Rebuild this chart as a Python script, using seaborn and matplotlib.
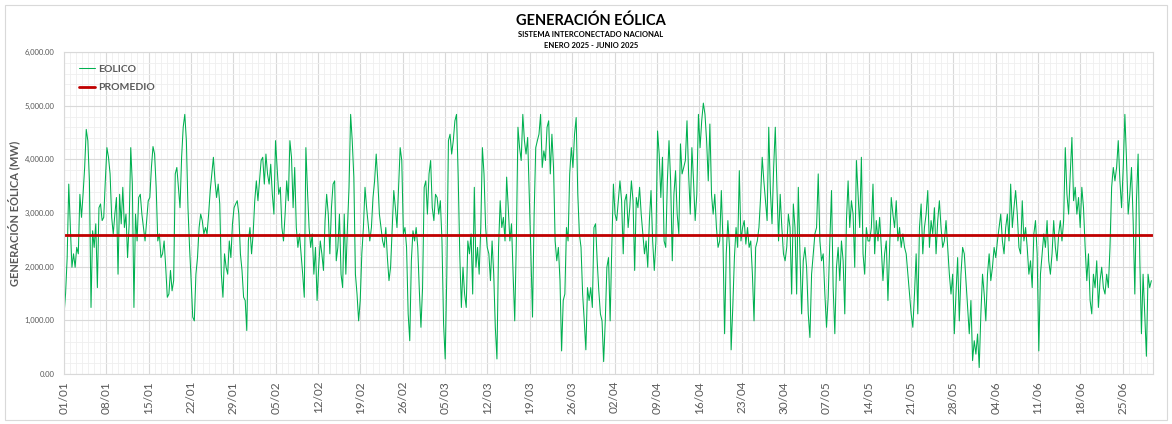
import pandas as pd
import matplotlib
matplotlib.use('Agg')
import matplotlib.pyplot as plt
from matplotlib.ticker import MultipleLocator, FuncFormatter, FixedLocator
import matplotlib.dates as mdates
import seaborn as sns

# valores (MW), agrupados por mes
ENERO = [1100, 1500, 2170, 3540, 2730, 1990, 2240, 1990, 2360, 2240, 3350, 2920, 3350, 3850, 4560,
         4350, 3600, 1240, 2670, 2360, 2800, 1610, 3100, 3170, 2860, 2920, 3600, 4220, 4040,
         3730, 2920, 2610, 2980, 3290, 1860, 3350, 2800, 3480, 2730, 2980, 2170, 2800, 4220, 3540,
         1240, 2980, 2480, 3290, 3350, 2980, 2730, 2480, 2860, 3230,
         3290, 3850, 4240, 4100, 3480, 2480, 2610, 2170, 2240, 2480, 1990, 1430, 1490, 1930, 1550,
         1740, 3730, 3850, 3480, 3100, 4040, 4600, 4840, 4350, 3100, 2360, 1740,
         1060, 990, 1860, 2170, 2730, 2980, 2860, 2610, 2730, 2610, 2980, 3420, 3730, 4040, 3600,
         3290, 3540, 3170, 1860, 1430, 2240, 1990, 1860, 2480, 2170, 2800, 3100,
         3170, 3230, 2980, 2240, 1930, 1430, 1370, 810, 2480, 2730]

FEBRERO = [2240, 2610, 3230, 3600, 3230, 3600, 3980, 4040, 3540, 4100, 3730, 3540, 3910, 3350, 2980,
           4350, 3850, 3350, 3480, 2730, 2480, 2980, 3600, 3230, 4350, 4040, 3100, 3850, 2730, 2360,
           2610, 2240, 1860, 1430, 4220, 3420, 2730, 2360, 2610, 1860, 2360,
           1370, 1990, 2480, 2240, 1930, 2860,
           3350, 2980, 2240, 3100, 3540, 3600, 2110, 2360, 2980, 1860, 1610, 2980, 1860, 2730, 3480,
           4840, 4350, 3670, 1860, 1490, 990, 1370, 2240, 2730, 3480, 3100, 2800, 2480, 2730, 3290,
           3600, 4100, 3600, 2980, 2730, 2480, 2360, 2730, 2170, 1740, 1990, 2730, 3420, 3100, 2730,
           3480, 4220, 3980, 2610, 2730, 2360, 1120, 620, 2110, 2670, 2480, 2730, 2360, 1550]

MARZO = [870, 1610, 3480, 3600, 2980, 3730, 3980, 3100, 2860, 3350, 3290, 2980, 3230, 2480, 930,
         280, 1860, 4350, 4470, 4100, 4350, 4720, 4840, 3730, 2240, 1240, 1990, 1490, 1240, 2480,
         2240, 2610, 1490, 3480, 1990, 2360, 1860, 2730, 4220, 3730, 2730, 2360, 2240, 1740, 2480,
         1860, 870, 280, 2360, 3230, 2730, 2920, 2480, 3670, 3100, 2480, 2800, 1860, 990, 2480,
         4600, 4220, 3980, 4840, 4350, 4100, 4410, 3350, 2240, 1060, 2980, 4220, 4350, 4470, 4840,
         3850, 4160, 3980, 4600, 4720, 3730, 4470, 3850, 2480, 2110, 2360, 1740, 430, 1370, 1490,
         2730, 2480, 3730, 4220, 3850, 4470, 4780, 3350, 2610, 2360, 1490, 990, 450, 1610, 1370,
         1610, 1240, 2730, 2800, 2110, 1550, 1120, 990, 230, 990, 1990]

ABRIL = [2170, 990, 2360, 3540, 2980, 2860, 3230, 3600, 3230, 2240, 3230, 3350, 2730, 3100, 3600,
         3230, 1930, 3290, 3100, 3480, 2980, 2610, 2240, 2480, 1990, 2860, 3420, 2480, 1930, 2480,
         4530, 4100, 3290, 4040, 2480, 2360, 3600, 4350, 3600, 2110, 3350, 3790, 2980, 2610, 4290,
         3730, 3850, 3980, 4720, 3730, 2980, 4220, 3600, 2860, 3350, 4840, 4220, 4720, 5050, 4840,
         4350, 3600, 4660, 3350, 2980, 3350, 2730, 2360, 2480, 3420, 2480, 750, 2240, 2860, 2360,
         450, 1240, 2170, 2730, 2360, 3790, 2480, 2730, 2860, 2420, 2730, 2360, 2480, 1860, 990,
         2360, 2480, 2730, 3290, 4040, 3600, 3230, 2860, 4600, 3420, 2800, 3850, 4600, 3480, 2480,
         3350, 2730, 2240, 2110, 2360, 2980]

MAYO = [2730, 1490, 3170, 2730, 1490, 3480, 2240, 1120, 2110, 2360, 1990, 1120, 680, 1860, 2240,
        2610, 2730, 3730, 2480, 2110, 2240, 1490, 870, 1430, 2480, 3420, 1610, 750, 1990, 2360,
        1740, 2480, 2110, 1120, 2860, 3600, 2730, 3230, 2980, 1990, 3980, 3350, 2730, 4040, 2240,
        1860, 2730, 2480,
        2480, 2730, 3540, 2240, 2860, 2480, 2920, 2360, 1740, 2240, 2480, 1370, 2360, 3290, 2980,
        2730, 3230, 2480, 2730, 2360, 2610, 2360, 2240, 1860, 1490, 1120, 870, 1490, 2240, 1120,
        2730, 3170, 2240, 2730, 2980, 3420, 2360, 2860, 2610, 3100, 2240, 2860, 3230, 2730, 2360,
        2480, 2860, 2360, 1860, 1490, 1860, 750, 1490, 2170, 990, 1860, 2360, 2240, 1740, 1240,
        750, 1370, 250, 620, 370]

JUNIO = [745, 120, 1120, 1860, 1490, 990, 1860, 2240, 1740, 1990, 2360, 2170, 2480, 2730, 2980,
         2480, 2240, 2730, 2980, 2480, 3540, 2730, 3100, 3420, 2980, 2360, 2240, 3230, 2480, 2730,
         2360, 1860, 2110, 1610, 2610, 2860, 2240, 430, 1860, 2240, 2610, 2360, 2860, 2110, 1860,
         2240, 2860, 2360, 2110, 2610, 2860, 2480, 2860, 4220, 3350, 2980, 3730, 4410, 3230, 3480,
         2980, 3290, 2730, 3480, 3100, 2360, 1740, 2240, 1370, 1120, 1860, 1610, 2110, 1240, 1740,
         1990, 1610, 1490, 1860, 1610, 2360, 3480, 3850, 3600, 3850, 4350, 3600, 3100, 3850, 4840,
         3980, 2980, 3350, 3850, 2860, 1490, 3230, 4100, 2170, 750, 1860, 1120, 330, 1860, 1610, 1740]

PROMEDIO = 2590

MESES = [('2025-01-01', '2025-02-01', ENERO),
         ('2025-02-01', '2025-03-01', FEBRERO),
         ('2025-03-01', '2025-04-01', MARZO),
         ('2025-04-01', '2025-05-01', ABRIL),
         ('2025-05-01', '2025-06-01', MAYO),
         ('2025-06-01', '2025-06-30', JUNIO)]

partes = []
for ini, fin, vals in MESES:
    t = pd.date_range(ini, fin, periods=len(vals) + 1)[:-1]
    partes.append(pd.DataFrame({'fecha': t, 'mw': vals}))
df = pd.concat(partes, ignore_index=True)

TICKS = pd.date_range('2025-01-01', '2025-06-30', freq='7D')

sns.set_style('white')
plt.rcParams['font.family'] = ['Lato', 'DejaVu Sans']
GRIS = '#595959'

fig = plt.figure(figsize=(11.72, 4.24), dpi=100)
ax = fig.add_axes([0.0546, 0.118, 0.9292, 0.759])

sns.lineplot(data=df, x='fecha', y='mw', ax=ax, color='#00B050', linewidth=0.75, label='EOLICO')
ax.axhline(PROMEDIO, color='#C00000', linewidth=2, label='PROMEDIO')

ax.set_xlim(pd.Timestamp('2025-01-01'), pd.Timestamp('2025-06-30'))
ax.set_ylim(0, 6000)

ax.yaxis.set_major_locator(MultipleLocator(1000))
ax.yaxis.set_minor_locator(MultipleLocator(200))
ax.yaxis.set_major_formatter(FuncFormatter(lambda v, p: f'{v:,.2f}'))
ax.xaxis.set_major_locator(FixedLocator(mdates.date2num(TICKS)))
ax.xaxis.set_minor_locator(mdates.DayLocator())
ax.xaxis.set_major_formatter(mdates.DateFormatter('%d/%m'))

ax.grid(which='major', color='#d9d9d9', linewidth=0.8)
ax.grid(which='minor', color='#efefef', linewidth=0.6)
ax.set_axisbelow(True)

ax.tick_params(axis='x', which='both', length=0, labelsize=8.5, labelcolor=GRIS,
               rotation=90, pad=5)
ax.tick_params(axis='y', which='both', length=0, labelsize=5.5, labelcolor=GRIS, pad=7)
for s in ax.spines.values():
    s.set_color('#d9d9d9')
    s.set_linewidth(0.8)

ax.set_xlabel('')
ax.set_ylabel('GENERACIÓN EÓLICA (MW)', fontsize=8, fontweight='bold', color=GRIS, labelpad=3)

leg = ax.legend(loc='upper left', bbox_to_anchor=(0.005, 0.99), frameon=False,
                handlelength=1.6, handletextpad=0.25, labelspacing=0.85,
                prop={'size': 7.5, 'weight': 'bold'})
for txt in leg.get_texts():
    txt.set_color(GRIS)

fig.text(0.504, 0.952, 'GENERACIÓN EÓLICA', ha='center', va='center', fontsize=10.5,
         fontweight='bold', color='#000000')
fig.text(0.504, 0.918, 'SISTEMA INTERCONECTADO NACIONAL', ha='center', va='center',
         fontsize=5.5, fontweight='bold', color='#000000')
fig.text(0.504, 0.893, 'ENERO 2025 - JUNIO 2025', ha='center', va='center',
         fontsize=5.5, fontweight='bold', color='#000000')

fig.add_artist(plt.Rectangle((0.004, 0.01), 0.992, 0.978, transform=fig.transFigure,
                             fill=False, edgecolor='#d9d9d9', linewidth=0.8))

fig.savefig('out.png', dpi=100)
